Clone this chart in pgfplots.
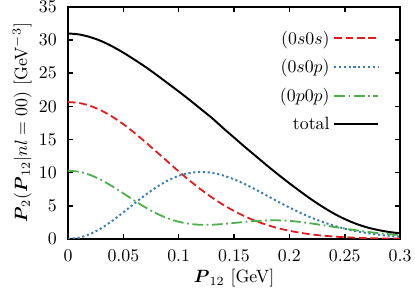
\documentclass[border=0pt]{standalone}
\usepackage{amsmath}
\usepackage{pgfplots}
\pgfplotsset{compat=1.18}
\definecolor{cred}{HTML}{E41A1C}
\definecolor{cblue}{HTML}{377EB8}
\definecolor{cgreen}{HTML}{4DAF4A}
\begin{document}
\begin{tikzpicture}
\useasboundingbox (-38.2pt,-29.2pt) rectangle (194.9pt,134.2pt);
\begin{axis}[
  at={(0,0)}, anchor=south west,
  width=186.5pt, height=130.3pt, scale only axis,
  xmin=0, xmax=0.3, ymin=0, ymax=35,
  xtick={0,0.05,0.1,0.15,0.2,0.25,0.3},
  xticklabels={0,0.05,0.1,0.15,0.2,0.25,0.3},
  ytick={0,5,10,15,20,25,30,35},
  tick align=inside,
  major tick length=2.8pt,
  axis line style={line width=1pt},
  every tick/.style={line width=0.9pt, black},
  xticklabel style={yshift=-2.5pt},
  yticklabel style={xshift=-2.8pt},
  xlabel={$\boldsymbol{P}_{12}$ [GeV]},
  ylabel={$\boldsymbol{P}_2(\boldsymbol{P}_{12}|nl=00)$ [GeV$^{-3}$]},
  xlabel style={at={(axis description cs:0.5,-0.170)}, anchor=center},
  ylabel style={at={(axis description cs:-0.138,0.5)}, anchor=center},
  legend plot pos=right,
  legend cell align=right,
  legend image code/.code={\draw[#1, line width=1.3pt] (0pt,0.3pt) -- (24.7pt,0.3pt);},
  legend style={draw=none, fill=none, at={(axis description cs:0.955,0.93)}, anchor=north east, row sep=3.2pt},
]
\addplot[cred, line width=1pt, dash pattern=on 4.3pt off 2.1pt, smooth] coordinates {
(0,20.65)(0.01,20.51)(0.02,20.08)(0.03,19.38)(0.04,18.44)(0.05,17.31)(0.06,16.01)(0.07,14.61)(0.08,13.14)(0.09,11.66)(0.10,10.19)(0.11,8.79)(0.12,7.47)(0.13,6.26)(0.14,5.17)(0.15,4.22)(0.16,3.39)(0.17,2.68)(0.18,2.10)(0.19,1.61)(0.20,1.23)(0.21,0.92)(0.22,0.68)(0.23,0.50)(0.24,0.36)(0.25,0.26)(0.26,0.18)(0.27,0.13)(0.28,0.09)(0.29,0.06)(0.30,0.04)};
\addlegendentry{$(0s0s)$}
\addplot[cblue, line width=1.1pt, dash pattern=on 1.2pt off 1.5pt, smooth] coordinates {
(0,0)(0.01,0.19)(0.02,0.74)(0.03,1.61)(0.04,2.73)(0.05,4.01)(0.06,5.35)(0.07,6.65)(0.08,7.82)(0.09,8.80)(0.10,9.52)(0.11,9.96)(0.12,10.10)(0.13,9.97)(0.14,9.58)(0.15,8.99)(0.16,8.25)(0.17,7.41)(0.18,6.51)(0.19,5.61)(0.20,4.74)(0.21,3.93)(0.22,3.20)(0.23,2.56)(0.24,2.01)(0.25,1.55)(0.26,1.18)(0.27,0.88)(0.28,0.65)(0.29,0.47)(0.30,0.33)};
\addlegendentry{$(0s0p)$}
\addplot[cgreen, line width=1pt, dash pattern=on 6pt off 2pt on 1pt off 2pt, smooth] coordinates {
(0,10.30)(0.01,10.13)(0.02,9.65)(0.03,8.90)(0.04,7.94)(0.05,6.88)(0.06,5.78)(0.07,4.75)(0.08,3.84)(0.09,3.12)(0.10,2.59)(0.11,2.27)(0.12,2.13)(0.13,2.14)(0.14,2.25)(0.15,2.41)(0.16,2.57)(0.17,2.71)(0.18,2.79)(0.19,2.80)(0.20,2.73)(0.21,2.55)(0.22,2.33)(0.23,2.08)(0.24,1.82)(0.25,1.56)(0.26,1.31)(0.27,1.08)(0.28,0.88)(0.29,0.71)(0.30,0.57)};
\addlegendentry{$(0p0p)$}
\addplot[black, line width=1.1pt, smooth] coordinates {
(0,31.0)(0.01,30.85)(0.02,30.45)(0.03,29.85)(0.04,29.05)(0.05,28.1)(0.06,27.05)(0.07,25.95)(0.08,24.75)(0.09,23.5)(0.10,22.25)(0.11,20.95)(0.12,19.6)(0.13,18.25)(0.14,16.75)(0.15,15.3)(0.16,13.85)(0.17,12.45)(0.18,11.05)(0.19,9.7)(0.20,8.4)(0.21,7.15)(0.22,5.95)(0.23,4.85)(0.24,3.85)(0.25,3.0)(0.26,2.3)(0.27,1.75)(0.28,1.35)(0.29,1.05)(0.30,0.85)};
\addlegendentry{total}
\end{axis}
\end{tikzpicture}
\end{document}
